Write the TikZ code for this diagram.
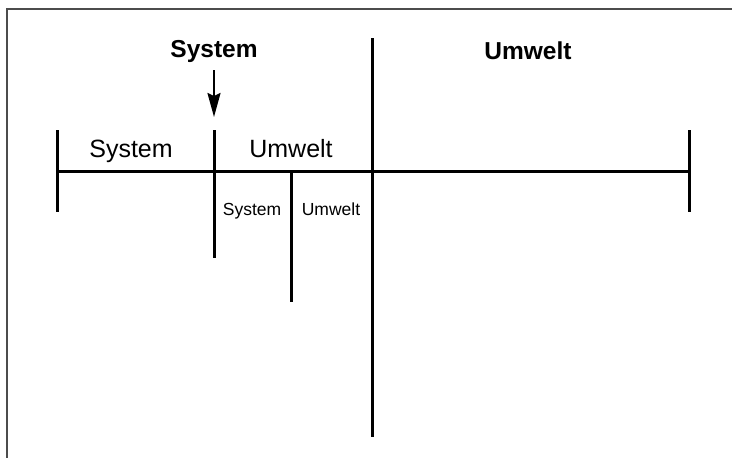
\documentclass[tikz,border=0pt]{standalone}
\usepackage{fontspec}
\setmainfont{Liberation Sans}
\usetikzlibrary{arrows.meta}
\tikzset{
  bar/.style={line width=3pt},
  big/.style={font=\fontsize{24.5}{28}\selectfont\bfseries, inner sep=0pt},
  mid/.style={font=\fontsize{25}{30}\selectfont, inner sep=0pt, anchor=base},
  small/.style={font=\fontsize{17.5}{21}\selectfont, inner sep=0pt, anchor=base}
}
\begin{document}
\begin{tikzpicture}[x=1pt, y=-1pt]
\useasboundingbox (0,0) rectangle (732,458);

\draw[line width=2pt, black!70] (7,470) -- (7,9) -- (745,9);

\draw[bar] (57,171) -- (689,171);
\draw[bar] (57,130) -- (57,212);
\draw[bar] (689,130) -- (689,212);
\draw[bar] (214,130) -- (214,258);
\draw[bar] (291,171) -- (291,302);
\draw[bar] (372,38) -- (372,437);

\node[big] (sysTop) at (214,51) {System};
\node[big] (umwTop) at (528,51) {Umwelt};
\draw[line width=2.2pt, -{Stealth[length=24pt, width=13pt, inset=3pt]}] (214,70) -- (214,117);

\node[mid] (sysMid) at (131,157) {System};
\node[mid] (umwMid) at (291,157) {Umwelt};

\node[small] (sysLow) at (252,215) {System};
\node[small] (umwLow) at (331,215) {Umwelt};

\end{tikzpicture}
\end{document}
